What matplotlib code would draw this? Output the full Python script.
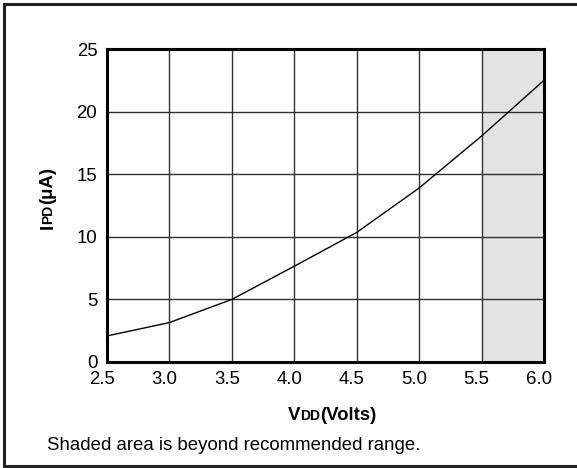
import matplotlib
matplotlib.use("Agg")
import matplotlib.pyplot as plt
import matplotlib.transforms as mtransforms
from matplotlib.lines import Line2D

plt.rcParams['font.family'] = ['Liberation Sans', 'DejaVu Sans']

# Data
vdd = [2.5, 3.0, 3.5, 4.0, 4.5, 5.0, 5.5, 6.0]
ipd = [2.08, 3.15, 5.0, 7.65, 10.35, 13.9, 18.05, 22.5]
x_ticks = [2.5, 3.0, 3.5, 4.0, 4.5, 5.0, 5.5, 6.0]
x_tick_labels = ["2.5", "3.0", "3.5", "4.0", "4.5", "5.0", "5.5", "6.0"]
y_ticks = [0, 5, 10, 15, 20, 25]
shade_start, shade_end = 5.5, 6.0
footnote = "Shaded area is beyond recommended range."

W, H = 577, 468
DPI = 100
FS = 13.4
FS_SMALL = 10.0
fig = plt.figure(figsize=(W / DPI, H / DPI), dpi=DPI)

L, R, T, B = 107, 544, 49, 362
ax = fig.add_axes([L / W, (H - B) / H, (R - L) / W, (B - T) / H])

ax.axvspan(shade_start, shade_end, color='#e3e3e3', zorder=0, lw=0)
ax.plot(vdd, ipd, color='black', lw=1.0, zorder=3)

ax.set_xlim(2.5, 6.0)
ax.set_ylim(0, 25)
ax.set_xticks(x_ticks)
ax.set_xticklabels(x_tick_labels)
ax.set_yticks(y_ticks)
ax.grid(True, color='#303030', lw=1.0, zorder=1)
ax.set_axisbelow(True)
for s in ax.spines.values():
    s.set_linewidth(2.2)
    s.set_color('black')
    s.set_zorder(4)
ax.tick_params(axis='both', length=0, labelsize=FS)
ax.tick_params(axis='y', pad=7)
ax.tick_params(axis='x', pad=6.5)
off = mtransforms.ScaledTranslation(-5 / DPI, 0, fig.dpi_scale_trans)
for lab in ax.get_xticklabels():
    lab.set_transform(lab.get_transform() + off)
off_y = mtransforms.ScaledTranslation(0, 1 / DPI, fig.dpi_scale_trans)
ylabs = ax.get_yticklabels()
ylabs[0].set_transform(ylabs[0].get_transform() + off_y)

# Composite labels
renderer = fig.canvas.get_renderer()

def chain(parts, rotation=0):
    texts = []
    for s, size in parts:
        t = fig.text(0, 0, s, fontsize=size, fontweight='bold',
                     rotation=rotation, rotation_mode='anchor',
                     ha='left', va='baseline', transform=None)
        texts.append(t)
    widths = []
    for t in texts:
        bb = t.get_window_extent(renderer)
        widths.append(bb.height if rotation == 90 else bb.width)
    return texts, widths, sum(widths)

def place(texts, widths, start, fixed, rotation=0):
    pos = start
    for t, w in zip(texts, widths):
        if rotation == 90:
            t.set_position((fixed, pos))
        else:
            t.set_position((pos, fixed))
        pos += w

# X label: VDD(Volts)
xt, xw, xtot = chain([("V", FS), ("DD", FS_SMALL), ("(Volts)", FS)])
place(xt, xw, 332.5 - xtot / 2, H - 419.5)

# Y label: IPD(μA)
yt, yw, ytot = chain([("I", FS), ("PD", FS_SMALL), ("(μA)", FS)], rotation=90)
place(yt, yw, (H - 198) - ytot / 2, 52.5, rotation=90)

fig.text(47 / W, (H - 446) / H, footnote, fontsize=FS, ha='left', va='center')

# Outer border (right edge off-canvas)
bc = '#222222'
fig.add_artist(Line2D([3.5 / W, 1.0], [(H - 3.5) / H] * 2, color=bc, lw=2.2, transform=fig.transFigure))
fig.add_artist(Line2D([3.5 / W, 1.0], [(H - 465.5) / H] * 2, color=bc, lw=2.2, transform=fig.transFigure))
fig.add_artist(Line2D([3.5 / W] * 2, [(H - 3.5) / H, (H - 465.5) / H], color=bc, lw=2.2, transform=fig.transFigure))

fig.savefig("out.png", dpi=DPI)
